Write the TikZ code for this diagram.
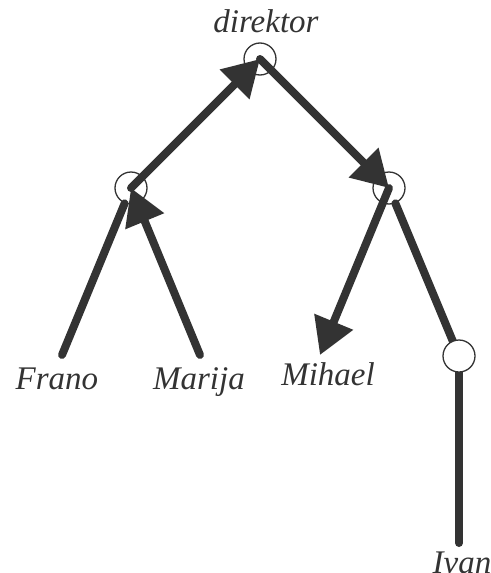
\documentclass[tikz,border=0pt]{standalone}
\usepackage{fontspec}
\setmainfont{Liberation Serif}
\usetikzlibrary{arrows.meta}
\definecolor{ink}{HTML}{333333}
\pgfdeclarelayer{front}
\pgfsetlayers{main,front}
\begin{document}
\begin{tikzpicture}[x=1pt,y=-1pt,
  vertex/.style={circle, draw=ink, line width=1.3pt, minimum size=32pt, inner sep=0pt},
  edge/.style={draw=ink, line width=8pt, line cap=round},
  arr/.style={edge, -{Triangle[length=36pt,width=40pt]}},
  lbl/.style={font=\fontsize{33}{36}\selectfont\itshape, text=ink, anchor=base, inner sep=0pt}]
\useasboundingbox (0,0) rectangle (490,573);
% inner vertices
\node[vertex] (d) at (260,59) {};
\node[vertex] (l) at (131,188) {};
\node[vertex] (r) at (389,188) {};
\begin{pgfonlayer}{front}
\node[vertex, fill=white] (iv) at (459,356) {};
\end{pgfonlayer}
% leaf ends
\coordinate (fr) at (62,355);
\coordinate (ma) at (200,355);
\coordinate (mi) at (320,355);
\coordinate (ivb) at (459,543);
% labels
\node[lbl] (tdir) at (266,32) {direktor};
\node[lbl] (tfr) at (57,389) {Frano};
\node[lbl] (tma) at (199,389) {Marija};
\node[lbl] (tmi) at (328,385) {Mihael};
\node[lbl] (tiv) at (462,573) {Ivan};
% connectors
\draw[edge] (fr) -- (l);
\draw[arr] (ma) -- (l.center);
\draw[arr] (l.center) -- (d.center);
\draw[arr] (d.center) -- (r.center);
\draw[arr] (r.center) -- (mi);
\draw[edge] (r) -- (iv.center);
\draw[edge] (iv.center) -- (ivb);
\end{tikzpicture}
\end{document}
